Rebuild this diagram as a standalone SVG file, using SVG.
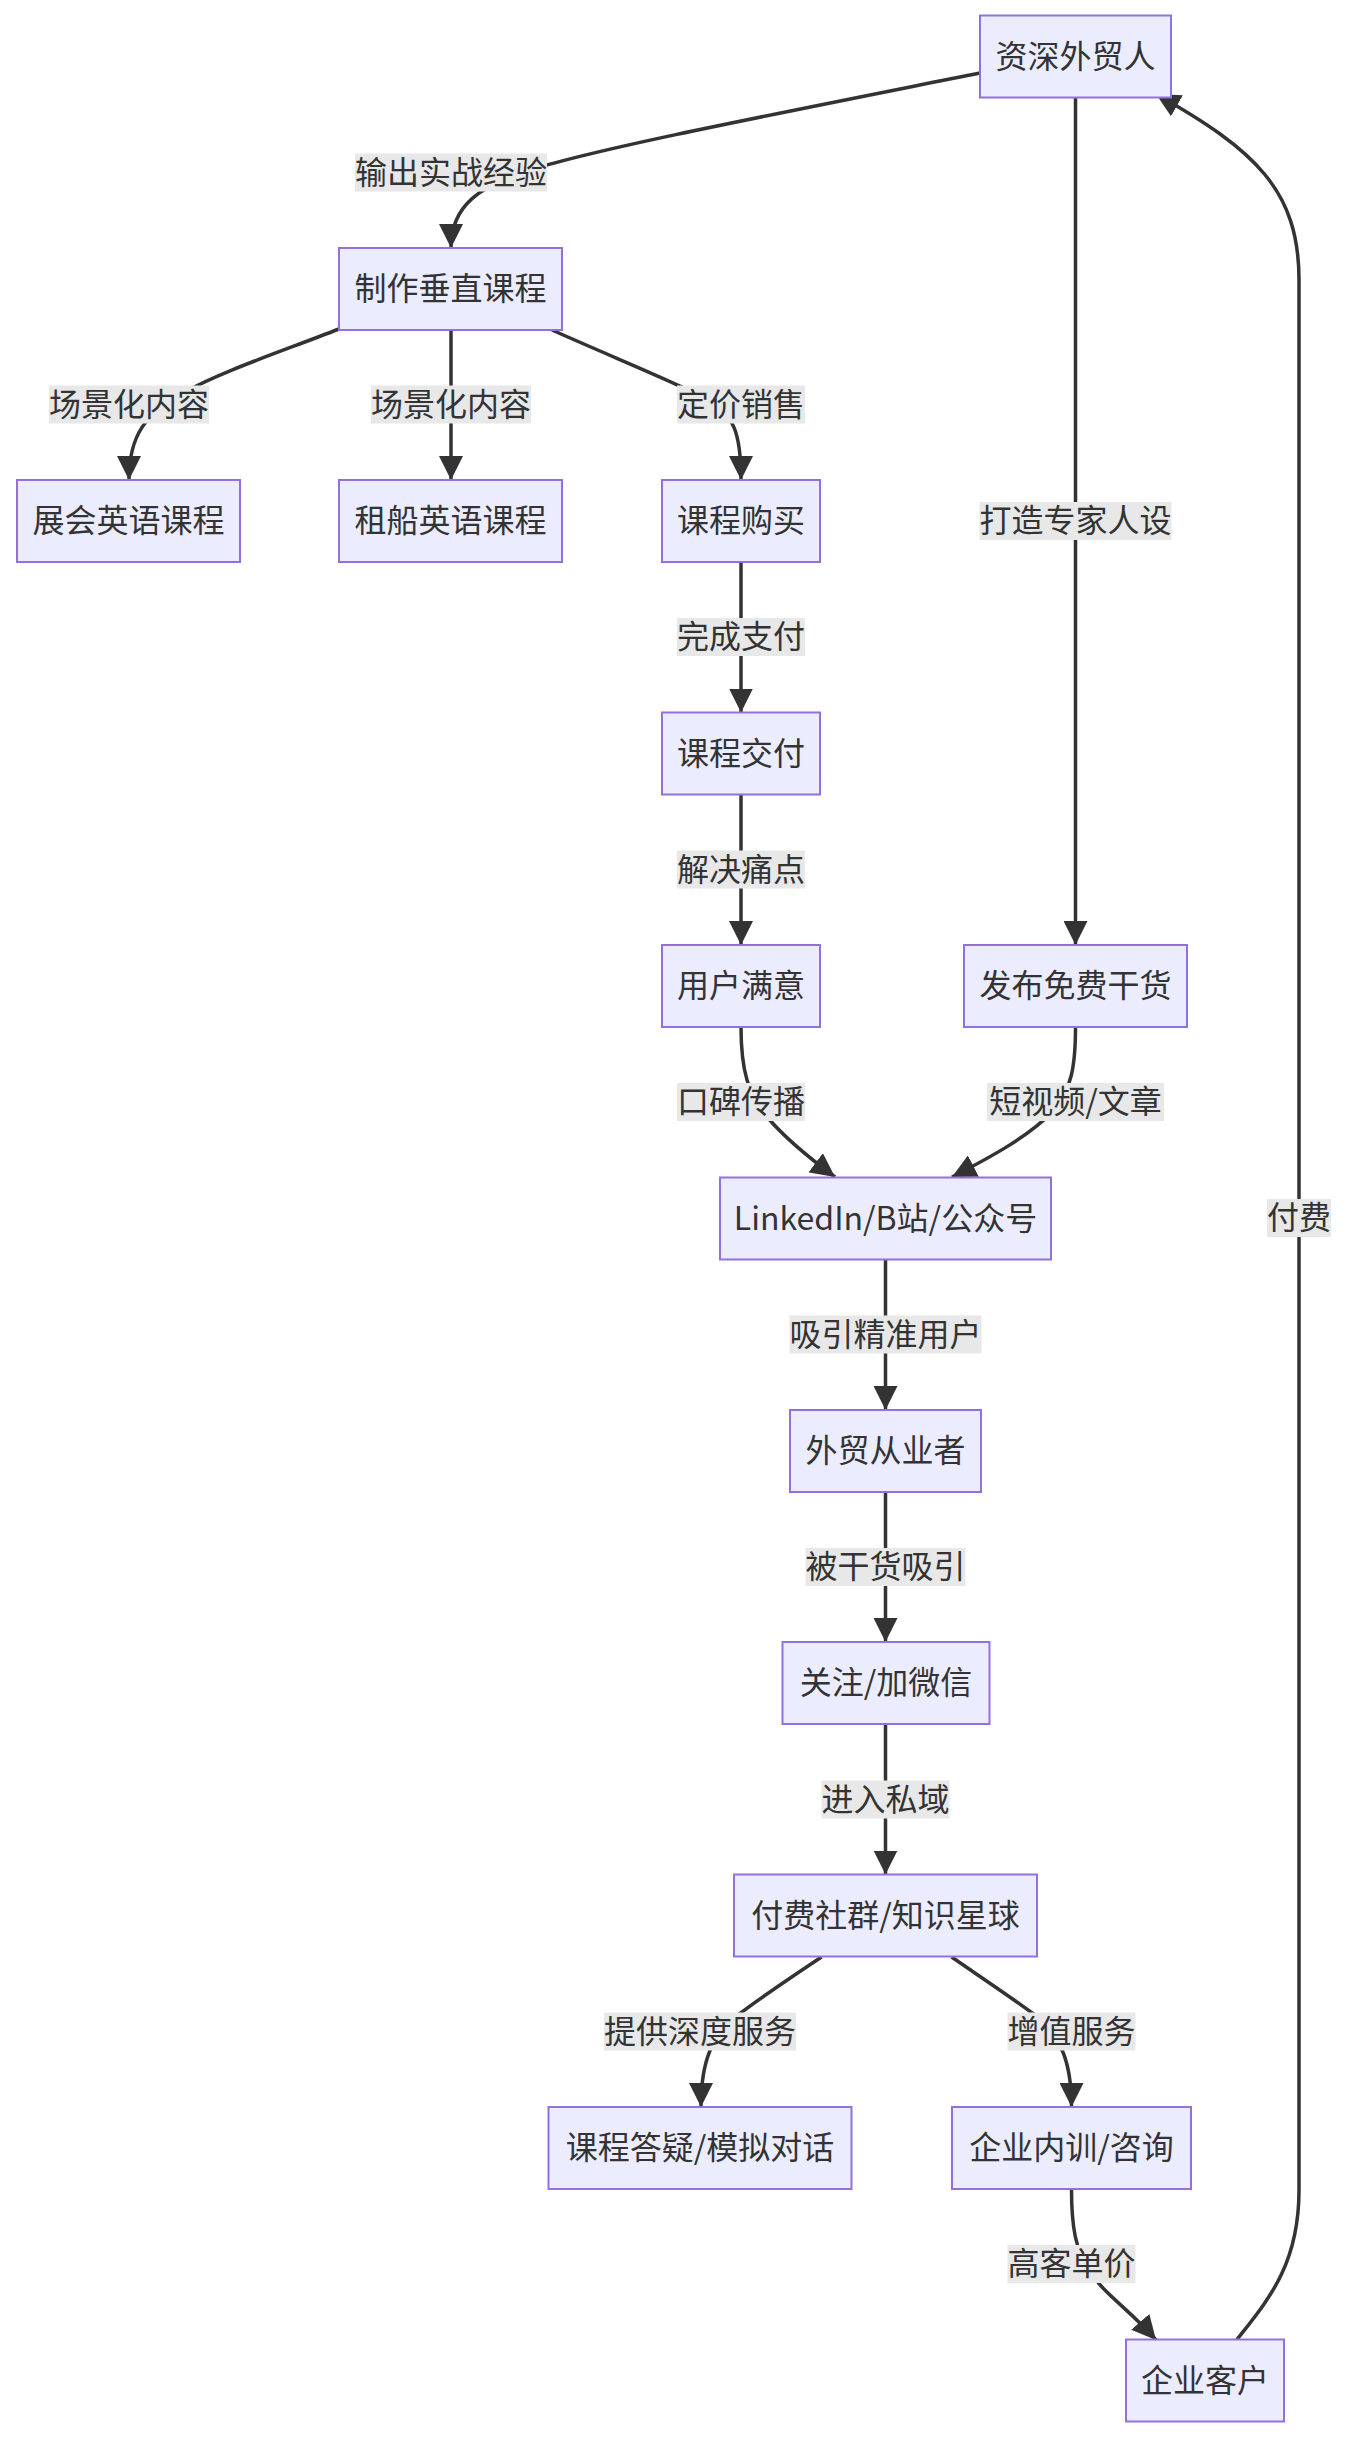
<svg xmlns="http://www.w3.org/2000/svg" width="1348" height="2438" viewBox="0 0 1348 2438">
<defs>
<marker id="arrow" viewBox="0 0 10 10" refX="10" refY="5" markerUnits="userSpaceOnUse" markerWidth="24" markerHeight="24" orient="auto">
<path d="M0,0 L10,5 L0,10 z" fill="#333333"/>
</marker>
<style>
.edge{fill:none;stroke:#333333;stroke-width:3.5;marker-end:url(#arrow);}
.node rect{fill:#ECECFF;stroke:#9370DB;stroke-width:2;}
.node text,.lbl text{font-family:"Noto Sans CJK SC","Noto Sans",sans-serif;font-size:32px;fill:#333333;text-anchor:middle;}
.lbl rect{fill:#e8e8e8;}
</style>
</defs>
<rect width="1348" height="2438" fill="#ffffff"/>
<g id="connectors">
<path class="edge" d="M980,73 C760,117 600,148 530,170 C480,186 451,205 451,248"/>
<path class="edge" d="M339,329 C280,352 220,372 185,392 C145,414 129,435 129,480"/>
<path class="edge" d="M451,330 L451,480"/>
<path class="edge" d="M552,330 C610,356 670,380 705,398 C735,414 741,435 741,480"/>
<path class="edge" d="M1075.5,97.5 L1075.5,945"/>
<path class="edge" d="M741,562 L741,712.5"/>
<path class="edge" d="M741,794.5 L741,945"/>
<path class="edge" d="M741,1027 C741,1070 748,1095 768,1118 C785,1138 808,1157 835,1177"/>
<path class="edge" d="M1075.5,1027 C1075.5,1065 1072,1090 1052,1112 C1030,1135 995,1155 952,1177"/>
<path class="edge" d="M885.5,1259.5 L885.5,1410"/>
<path class="edge" d="M885.5,1492 L885.5,1642"/>
<path class="edge" d="M885.5,1724 L885.5,1874.5"/>
<path class="edge" d="M821.5,1957 C790,1978 760,1998 738,2015 C712,2036 701,2060 701,2107"/>
<path class="edge" d="M951.6,1957 C985,1980 1015,2000 1035,2015 C1060,2036 1071.5,2060 1071.5,2107"/>
<path class="edge" d="M1071.5,2189 C1071.5,2225 1075,2250 1090,2272 C1105,2295 1130,2310 1156,2340"/>
<path class="edge" d="M1237,2339.5 C1268,2300 1299,2265 1299,2190 L1299,280 C1299,190 1255,150 1156,94"/>
</g>
<g id="edge-labels">
<g class="lbl"><rect x="355" y="153.5" width="192" height="38"/><text x="451" y="183.5">输出实战经验</text></g>
<g class="lbl"><rect x="49" y="385.5" width="160" height="38"/><text x="129" y="415.5">场景化内容</text></g>
<g class="lbl"><rect x="371" y="385.5" width="160" height="38"/><text x="451" y="415.5">场景化内容</text></g>
<g class="lbl"><rect x="677" y="385.5" width="128" height="38"/><text x="741" y="415.5">定价销售</text></g>
<g class="lbl"><rect x="979.5" y="502" width="192" height="38"/><text x="1075.5" y="532">打造专家人设</text></g>
<g class="lbl"><rect x="677" y="618" width="128" height="38"/><text x="741" y="648">完成支付</text></g>
<g class="lbl"><rect x="677" y="850.5" width="128" height="38"/><text x="741" y="880.5">解决痛点</text></g>
<g class="lbl"><rect x="677" y="1083" width="128" height="38"/><text x="741" y="1113">口碑传播</text></g>
<g class="lbl"><rect x="987" y="1083" width="177" height="38"/><text x="1075.5" y="1113">短视频/文章</text></g>
<g class="lbl"><rect x="1267" y="1199" width="64" height="38"/><text x="1299" y="1229">付费</text></g>
<g class="lbl"><rect x="789.5" y="1315.5" width="192" height="38"/><text x="885.5" y="1345.5">吸引精准用户</text></g>
<g class="lbl"><rect x="805.5" y="1548" width="160" height="38"/><text x="885.5" y="1578">被干货吸引</text></g>
<g class="lbl"><rect x="821.5" y="1780.5" width="128" height="38"/><text x="885.5" y="1810.5">进入私域</text></g>
<g class="lbl"><rect x="604" y="2012.5" width="192" height="38"/><text x="700" y="2042.5">提供深度服务</text></g>
<g class="lbl"><rect x="1007.5" y="2012.5" width="128" height="38"/><text x="1071.5" y="2042.5">增值服务</text></g>
<g class="lbl"><rect x="1007.5" y="2245" width="128" height="38"/><text x="1071.5" y="2275">高客单价</text></g>
</g>
<g id="n1" class="node"><rect x="980" y="15.5" width="191" height="82"/><text x="1075.5" y="67.5">资深外贸人</text></g>
<g id="n2" class="node"><rect x="339" y="248" width="223" height="82"/><text x="450.5" y="300">制作垂直课程</text></g>
<g id="n3" class="node"><rect x="17" y="480" width="223" height="82"/><text x="128.5" y="532">展会英语课程</text></g>
<g id="n4" class="node"><rect x="339" y="480" width="223" height="82"/><text x="450.5" y="532">租船英语课程</text></g>
<g id="n5" class="node"><rect x="662" y="480" width="158" height="82"/><text x="741" y="532">课程购买</text></g>
<g id="n6" class="node"><rect x="662" y="712.5" width="158" height="82"/><text x="741" y="764.5">课程交付</text></g>
<g id="n7" class="node"><rect x="662" y="945" width="158" height="82"/><text x="741" y="997">用户满意</text></g>
<g id="n8" class="node"><rect x="964" y="945" width="223" height="82"/><text x="1075.5" y="997">发布免费干货</text></g>
<g id="n9" class="node"><rect x="720" y="1177.5" width="331" height="82"/><text x="885.5" y="1229.5">LinkedIn/B站/公众号</text></g>
<g id="n10" class="node"><rect x="790" y="1410" width="191" height="82"/><text x="885.5" y="1462">外贸从业者</text></g>
<g id="n11" class="node"><rect x="782.5" y="1642" width="207" height="82"/><text x="886" y="1694">关注/加微信</text></g>
<g id="n12" class="node"><rect x="734" y="1874.5" width="303" height="82"/><text x="885.5" y="1926.5">付费社群/知识星球</text></g>
<g id="n13" class="node"><rect x="548.5" y="2107" width="303" height="82"/><text x="700" y="2159">课程答疑/模拟对话</text></g>
<g id="n14" class="node"><rect x="952" y="2107" width="239" height="82"/><text x="1071.5" y="2159">企业内训/咨询</text></g>
<g id="n15" class="node"><rect x="1126" y="2339.5" width="158" height="82"/><text x="1205" y="2391.5">企业客户</text></g>
</svg>
